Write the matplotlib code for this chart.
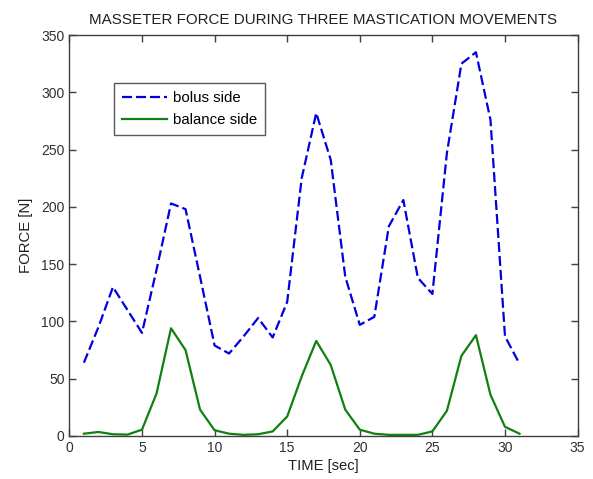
import matplotlib
matplotlib.use("Agg")
import matplotlib.pyplot as plt

plt.rcParams['font.family'] = ['Liberation Sans', 'DejaVu Sans']

time_sec = list(range(1, 32))
bolus_side = [64, 95, 130, 110, 90, 145, 203, 198, 139, 79, 72, 87, 103, 86, 117,
              225, 282, 241, 139, 97, 104, 183, 206, 138, 124, 247, 325, 335, 276, 87, 63]
balance_side = [2, 3.5, 1.5, 1.2, 5.5, 37, 94, 75, 23, 5, 2, 1, 1.5, 4, 17,
                52, 83, 62, 23, 5.5, 2, 1, 1, 1, 4, 22, 70, 88, 36, 8, 2]

title = "MASSETER FORCE DURING THREE MASTICATION MOVEMENTS"
xlabel = "TIME [sec]"
ylabel = "FORCE [N]"
labels = ["bolus side", "balance side"]

fig = plt.figure(figsize=(5.93, 4.79), dpi=100)
ax = fig.add_axes([0.117, 0.0898, 0.857, 0.837])

ax.plot(time_sec, bolus_side, color='#0000e0', lw=1.6, ls=(0, (4.5, 1.8)), label=labels[0])
ax.plot(time_sec, balance_side, color='#108010', lw=1.6, label=labels[1])

ax.set_xlim(0, 35)
ax.set_ylim(0, 350)
ax.set_xticks(range(0, 36, 5))
ax.set_yticks(range(0, 351, 50))

edge = '#404040'
for s in ax.spines.values():
    s.set_color(edge)
    s.set_linewidth(1.0)
ax.tick_params(direction='in', length=5, width=1, colors=edge, labelcolor='#303030',
               labelsize=10, top=True, right=True)

ax.set_title(title, fontsize=10.9, color='#202020', pad=8)
ax.set_xlabel(xlabel, fontsize=10.6, color='#202020', labelpad=3)
ax.set_ylabel(ylabel, fontsize=10.7, color='#202020', labelpad=6)

leg = ax.legend(loc='upper left', bbox_to_anchor=(0.0878, 0.880), fontsize=10.8,
                frameon=True, fancybox=False, handlelength=3.0, handletextpad=0.35,
                borderpad=0.55, labelspacing=0.5, borderaxespad=0)
leg.get_frame().set_edgecolor('#303030')
leg.get_frame().set_linewidth(1.0)

fig.savefig("out.png", dpi=100)
